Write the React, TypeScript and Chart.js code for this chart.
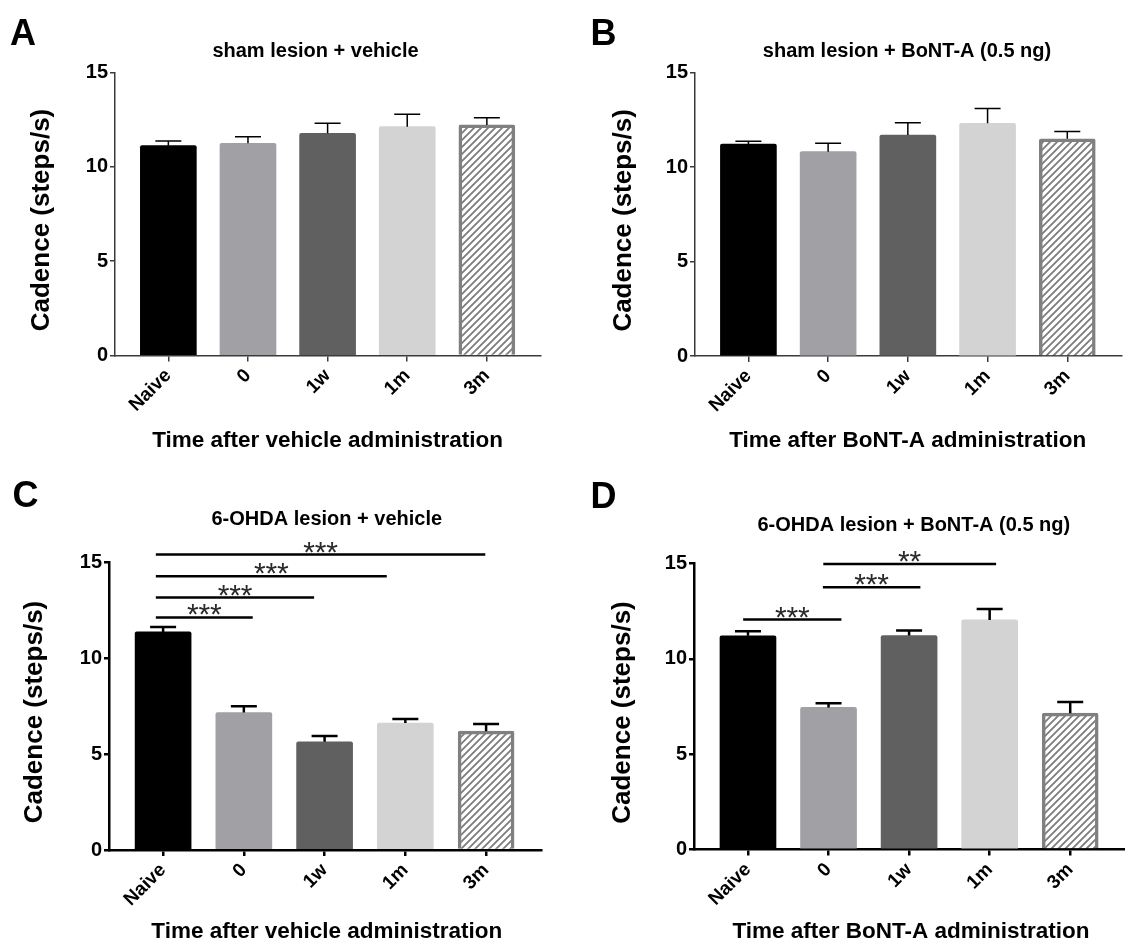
import React, { useEffect, useRef } from "react";
import { Chart, registerables } from "chart.js";
Chart.register(...registerables);

// ---------- data ----------
const categories = ["Naive", "0", "1w", "1m", "3m"];
const yTickValues = [0, 5, 10, 15];

const shamVehicleMeans = [11.12, 11.25, 11.78, 12.13, 12.22];
const shamVehicleSem = [0.25, 0.35, 0.53, 0.66, 0.38];

const shamBontMeans = [11.22, 10.82, 11.7, 12.32, 11.5];
const shamBontSem = [0.15, 0.44, 0.65, 0.79, 0.39];

const ohdaVehicleMeans = [11.36, 7.16, 5.64, 6.61, 6.19];
const ohdaVehicleSem = [0.26, 0.33, 0.3, 0.21, 0.37];

const ohdaBontMeans = [11.21, 7.45, 11.22, 12.04, 7.15];
const ohdaBontSem = [0.24, 0.22, 0.26, 0.57, 0.58];

// significance brackets (x in category units, y in steps/s)
const ohdaVehicleSigFrom = [-0.09, -0.09, -0.09, -0.09];
const ohdaVehicleSigTo = [1.11, 1.87, 2.77, 3.99];
const ohdaVehicleSigY = [12.11, 13.15, 14.26, 15.39];
const ohdaVehicleSigLabel = ["***", "***", "***", "***"];

const ohdaBontSigFrom = [-0.06, 0.93, 0.935];
const ohdaBontSigTo = [1.16, 2.14, 3.08];
const ohdaBontSigY = [12.06, 13.75, 14.98];
const ohdaBontSigLabel = ["***", "***", "**"];

// ---------- styles ----------
const FONT = "'Liberation Sans', Arial, Helvetica, sans-serif";
const barFills = ["#000000", "#a0a0a5", "#606060", "#d3d3d3"];

function makeHatch(): CanvasPattern | string {
  const p = 7;
  const c = document.createElement("canvas");
  c.width = p;
  c.height = p;
  const g = c.getContext("2d");
  if (!g) return "#ffffff";
  g.fillStyle = "#ffffff";
  g.fillRect(0, 0, p, p);
  g.strokeStyle = "#7c7c7c";
  g.lineWidth = 1.8;
  g.beginPath();
  g.moveTo(-1, p + 1);
  g.lineTo(p + 1, -1);
  g.moveTo(-2, 2);
  g.lineTo(2, -2);
  g.moveTo(p - 2, p + 2);
  g.lineTo(p + 2, p - 2);
  g.stroke();
  return g.createPattern(c, "repeat") || "#ffffff";
}

type Sig = { from: number[]; to: number[]; y: number[]; label: string[] };

type Panel = {
  letter: string;
  title: string;
  xTitle: string;
  means: number[];
  sem: number[];
  sig: Sig | null;
  page: { x: number; y: number; w: number; h: number };
  area: { l: number; r: number; t: number; b: number };
  letterPos: [number, number];
  titlePos: [number, number];
  xTitlePos: [number, number];
  yTitleX: number;
  heavy: boolean;
};

const panels: Panel[] = [
  {
    letter: "A",
    title: "sham lesion + vehicle",
    xTitle: "Time after vehicle administration",
    means: shamVehicleMeans,
    sem: shamVehicleSem,
    sig: null,
    page: { x: 0, y: 0, w: 562, h: 470 },
    area: { l: 115, r: 541, t: 72.5, b: 355.5 },
    letterPos: [10, 45],
    titlePos: [315.5, 57],
    xTitlePos: [327.6, 447],
    yTitleX: 42,
    heavy: false,
  },
  {
    letter: "B",
    title: "sham lesion + BoNT-A (0.5 ng)",
    xTitle: "Time after BoNT-A administration",
    means: shamBontMeans,
    sem: shamBontSem,
    sig: null,
    page: { x: 562, y: 0, w: 563, h: 470 },
    area: { l: 133, r: 559.5, t: 72.7, b: 356 },
    letterPos: [28.6, 45],
    titlePos: [345, 57],
    xTitlePos: [345.7, 447],
    yTitleX: 62,
    heavy: false,
  },
  {
    letter: "C",
    title: "6-OHDA lesion + vehicle",
    xTitle: "Time after vehicle administration",
    means: ohdaVehicleMeans,
    sem: ohdaVehicleSem,
    sig: { from: ohdaVehicleSigFrom, to: ohdaVehicleSigTo, y: ohdaVehicleSigY, label: ohdaVehicleSigLabel },
    page: { x: 0, y: 470, w: 562, h: 475 },
    area: { l: 109, r: 541, t: 92, b: 380 },
    letterPos: [12.5, 37],
    titlePos: [326.8, 55],
    xTitlePos: [326.8, 468],
    yTitleX: 35,
    heavy: true,
  },
  {
    letter: "D",
    title: "6-OHDA lesion + BoNT-A (0.5 ng)",
    xTitle: "Time after BoNT-A administration",
    means: ohdaBontMeans,
    sem: ohdaBontSem,
    sig: { from: ohdaBontSigFrom, to: ohdaBontSigTo, y: ohdaBontSigY, label: ohdaBontSigLabel },
    page: { x: 562, y: 470, w: 563, h: 475 },
    area: { l: 132, r: 563, t: 93.5, b: 379.5 },
    letterPos: [28.6, 38],
    titlePos: [351.8, 61],
    xTitlePos: [349, 468],
    yTitleX: 61,
    heavy: true,
  },
];

function PanelChart({ panel }: { panel: Panel }) {
  const ref = useRef<HTMLCanvasElement | null>(null);

  useEffect(() => {
    const canvas = ref.current;
    if (!canvas) return;
    const { w, h } = panel.page;
    const a = panel.area;
    const axisColor = panel.heavy ? "#000000" : "#3a3a3a";
    const axisWidth = panel.heavy ? 2.5 : 1.5;
    const errWidth = panel.heavy ? 2.5 : 1.5;
    const hatch = makeHatch();

    const overlay = {
      id: "overlay",
      afterDatasetsDraw(chart: any) {
        const ctx: CanvasRenderingContext2D = chart.ctx;
        const xs = chart.scales.x;
        const ys = chart.scales.y;
        const meta = chart.getDatasetMeta(0);
        ctx.save();
        // error bars (upper only)
        ctx.strokeStyle = "#000000";
        ctx.lineWidth = errWidth;
        meta.data.forEach((el: any, i: number) => {
          const top = ys.getPixelForValue(panel.means[i] + panel.sem[i]);
          const base = el.y;
          ctx.beginPath();
          ctx.moveTo(el.x, base);
          ctx.lineTo(el.x, top);
          ctx.moveTo(el.x - 13, top);
          ctx.lineTo(el.x + 13, top);
          ctx.stroke();
        });
        // significance brackets
        if (panel.sig) {
          const s = panel.sig;
          ctx.font = `30px ${FONT}`;
          ctx.textAlign = "center";
          ctx.textBaseline = "alphabetic";
          const m = ctx.measureText("*");
          const desc = m.actualBoundingBoxDescent;
          for (let i = 0; i < s.y.length; i++) {
            const x1 = xs.getPixelForValue(s.from[i]);
            const x2 = xs.getPixelForValue(s.to[i]);
            const yy = ys.getPixelForValue(s.y[i]);
            ctx.strokeStyle = "#000000";
            ctx.lineWidth = 2.5;
            ctx.beginPath();
            ctx.moveTo(x1, yy);
            ctx.lineTo(x2, yy);
            ctx.stroke();
            const n = s.label[i].length;
            const cx = (x1 + x2) / 2;
            ctx.fillStyle = "#2a2a2a";
            for (let k = 0; k < n; k++) {
              const sx = cx + (k - (n - 1) / 2) * 11.5;
              ctx.fillText("*", sx, yy - 2 - desc);
            }
          }
        }
        // texts
        ctx.fillStyle = "#000000";
        ctx.textBaseline = "alphabetic";
        ctx.textAlign = "left";
        ctx.font = `bold 36px ${FONT}`;
        ctx.fillText(panel.letter, panel.letterPos[0], panel.letterPos[1]);
        ctx.textAlign = "center";
        ctx.font = `bold 20px ${FONT}`;
        ctx.fillText(panel.title, panel.titlePos[0], panel.titlePos[1]);
        ctx.font = `bold 22.5px ${FONT}`;
        ctx.fillText(panel.xTitle, panel.xTitlePos[0], panel.xTitlePos[1]);
        ctx.save();
        ctx.translate(panel.yTitleX, (a.t + a.b) / 2 + 6);
        ctx.rotate(-Math.PI / 2);
        ctx.textBaseline = "middle";
        ctx.font = `bold 26px ${FONT}`;
        ctx.fillText("Cadence (steps/s)", 0, 0);
        ctx.restore();
        ctx.restore();
      },
    };

    const chart = new Chart(canvas, {
      type: "bar",
      data: {
        datasets: [
          {
            data: categories.map((_, i) => ({ x: i, y: panel.means[i] })) as any,
            backgroundColor: [...barFills, hatch] as any,
            borderColor: [...barFills, "#808080"],
            borderWidth: [0, 0, 0, 0, 3.5],
            borderRadius: 2,
            borderSkipped: "start",
            barThickness: 56,
          },
        ],
      },
      options: {
        responsive: false,
        animation: false,
        events: [],
        layout: { padding: { left: 0, top: a.t, right: w - a.r, bottom: 0 } },
        plugins: {
          legend: { display: false },
          tooltip: { enabled: false },
          title: { display: false },
        },
        scales: {
          x: {
            type: "linear",
            offset: false,
            min: -0.67,
            max: 4.68,
            afterBuildTicks: (s: any) => {
              s.ticks = categories.map((_, i) => ({ value: i }));
            },
            afterFit: (s: any) => {
              s.height = h - a.b;
            },
            ticks: {
              autoSkip: false,
              minRotation: 45,
              maxRotation: 45,
              padding: 3,
              color: "#000000",
              font: { family: FONT, size: 19, weight: "bold" },
              callback: (v: any) => categories[Math.round(Number(v))] ?? "",
            },
            grid: {
              offset: false,
              drawOnChartArea: false,
              drawTicks: true,
              tickLength: 6,
              color: axisColor,
              lineWidth: axisWidth,
            },
            border: { display: true, color: axisColor, width: axisWidth },
          },
          y: {
            type: "linear",
            min: 0,
            max: 15,
            afterBuildTicks: (s: any) => {
              s.ticks = yTickValues.map((v) => ({ value: v }));
            },
            afterFit: (s: any) => {
              s.width = a.l;
            },
            ticks: {
              padding: 2,
              color: "#000000",
              font: { family: FONT, size: 20, weight: "bold" },
            },
            grid: {
              drawOnChartArea: false,
              drawTicks: true,
              tickLength: 5,
              color: axisColor,
              lineWidth: axisWidth,
            },
            border: { display: true, color: axisColor, width: axisWidth },
          },
        },
      },
      plugins: [overlay],
    } as any);

    return () => chart.destroy();
  }, [panel]);

  const { x, y, w, h } = panel.page;
  return (
    <div style={{ position: "absolute", left: x, top: y, width: w, height: h }}>
      <canvas ref={ref} width={w} height={h} style={{ width: w, height: h, display: "block" }} />
    </div>
  );
}

export default function App() {
  return (
    <div
      style={{
        position: "absolute",
        left: 0,
        top: 0,
        width: 1125,
        height: 945,
        background: "#ffffff",
        overflow: "hidden",
      }}
    >
      {panels.map((p) => (
        <PanelChart key={p.letter} panel={p} />
      ))}
    </div>
  );
}
